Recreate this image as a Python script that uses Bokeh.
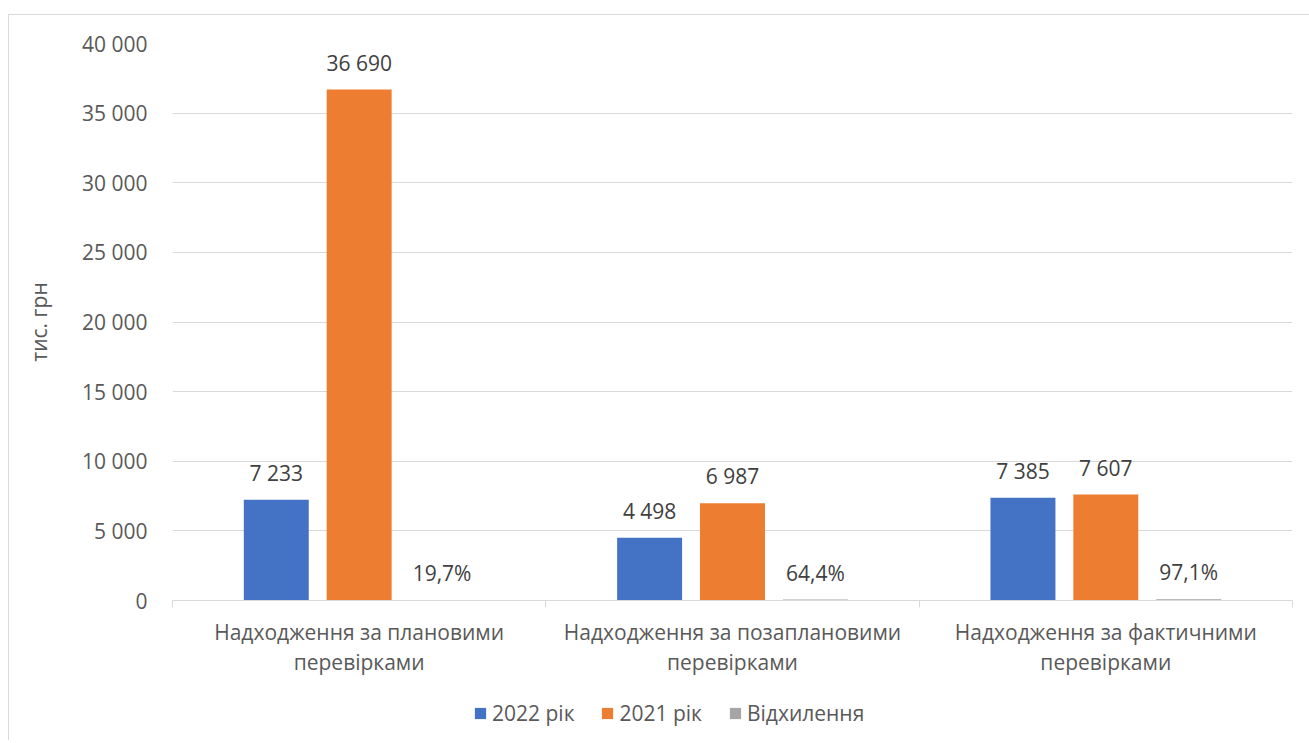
from bokeh.plotting import figure
from bokeh.layouts import column
from bokeh.models import (ColumnDataSource, Range1d, LinearAxis, FixedTicker,
                          Legend, LegendItem)
from bokeh.transform import dodge
from bokeh.core.properties import value
from bokeh.embed import file_html
from bokeh.resources import INLINE

categories = ["Надходження за плановими\nперевірками",
              "Надходження за позаплановими\nперевірками",
              "Надходження за фактичними\nперевірками"]
series_names = ["2022 рік", "2021 рік", "Відхилення"]
values_2022 = [7233, 4498, 7385]
values_2021 = [36690, 6987, 7607]
deviation_pct = [19.7, 64.4, 97.1]
y_ticks = [0, 5000, 10000, 15000, 20000, 25000, 30000, 35000, 40000]
y_tick_labels = ["0", "5 000", "10 000", "15 000", "20 000", "25 000", "30 000", "35 000", "40 000"]

FONT = "Open Sans"
TXT = "#595959"
LBL = "#404040"
colors = ["#4472C4", "#ED7D31", "#A5A5A5"]


def fmt_int(v):
    return f"{v:,}".replace(",", " ")


def fmt_pct(v):
    return f"{v:.1f}".replace(".", ",") + "%"


n = len(categories)
centers = [i + 0.5 for i in range(n)]
bounds = list(range(n + 1))

src = ColumnDataSource(dict(
    xc=centers,
    v2022=values_2022,
    v2021=values_2021,
    dev=deviation_pct,
    l2022=[fmt_int(v) for v in values_2022],
    l2021=[fmt_int(v) for v in values_2021],
    ldev=[fmt_pct(v) for v in deviation_pct],
))

p = figure(width=1300, height=675, output_backend="svg", toolbar_location=None,
           x_range=Range1d(0, n), y_range=Range1d(0, 40000), x_axis_location=None)
p.min_border_left = 163
p.min_border_right = 17
p.min_border_top = 28
p.min_border_bottom = 90
p.outline_line_color = None
p.background_fill_color = "white"
p.border_fill_color = "white"

offsets = [-0.222, 0.0, 0.222]
bw = 0.174
fields = ["v2022", "v2021", "dev"]
labels = ["l2022", "l2021", "ldev"]
for f, lab, off, c in zip(fields, labels, offsets, colors):
    p.vbar(x=dodge("xc", off), top=f, width=bw, source=src,
           fill_color=c, line_color=None)
    p.text(x=dodge("xc", off), y=f, text=lab, source=src,
           text_align="center", text_baseline="middle", y_offset=-27,
           text_font=value(FONT), text_font_size="21px", text_color=LBL)

# y axis
p.yaxis.ticker = FixedTicker(ticks=y_ticks)
p.yaxis.major_label_overrides = {t: s for t, s in zip(y_ticks, y_tick_labels)}
p.yaxis.axis_line_color = None
p.yaxis.major_tick_line_color = None
p.yaxis.minor_tick_line_color = None
p.yaxis.major_label_standoff = 19
p.yaxis.major_label_text_font = FONT
p.yaxis.major_label_text_font_size = "21px"
p.yaxis.major_label_text_color = TXT
p.yaxis.axis_label = "тис. грн"
p.yaxis.axis_label_text_font = FONT
p.yaxis.axis_label_text_font_size = "21px"
p.yaxis.axis_label_text_font_style = "normal"
p.yaxis.axis_label_text_color = TXT
p.yaxis.axis_label_standoff = 26

p.ygrid.grid_line_color = "#D9D9D9"
p.xgrid.grid_line_color = None

# category axis: labels at centers, separator marks at boundaries
cat_axis = LinearAxis(ticker=FixedTicker(ticks=centers, minor_ticks=bounds),
                      major_label_overrides={c: name for c, name in zip(centers, categories)})
cat_axis.axis_line_color = "#D9D9D9"
cat_axis.major_tick_line_color = None
cat_axis.major_tick_in = 0
cat_axis.major_tick_out = 0
cat_axis.minor_tick_line_color = "#D9D9D9"
cat_axis.minor_tick_in = 0
cat_axis.minor_tick_out = 7
cat_axis.major_label_text_font = FONT
cat_axis.major_label_text_font_size = "21px"
cat_axis.major_label_text_color = TXT
cat_axis.major_label_text_line_height = 1.1
cat_axis.major_label_standoff = 10
p.add_layout(cat_axis, "below")

# legend row (separate strip under the chart); its renderers use the same data
# but are hidden, so only the legend shows
leg = figure(width=1300, height=50, output_backend="svg", toolbar_location=None,
             x_range=Range1d(100, 101), y_range=Range1d(0, 1),
             x_axis_location=None, y_axis_location=None, min_border=0)
leg.outline_line_color = None
leg.grid.visible = False
leg_renderers = [leg.vbar(x=dodge("xc", off), top=f, width=bw, source=src,
                          fill_color=c, line_color=None, visible=False)
                 for f, off, c in zip(fields, offsets, colors)]
legend = Legend(items=[LegendItem(label=s, renderers=[r]) for s, r in zip(series_names, leg_renderers)],
                orientation="horizontal", location=(301, 13),
                glyph_width=14, glyph_height=14, label_standoff=5, spacing=26,
                padding=0, margin=0, border_line_color=None, background_fill_alpha=0,
                inactive_fill_alpha=0,
                label_text_font=FONT, label_text_font_size="21px", label_text_color=TXT)
leg.add_layout(legend, "center")

layout = column(p, leg, spacing=0)
layout.margin = (14, 0, 0, 8)
layout.styles = {"border-left": "1px solid #D9D9D9", "border-top": "1px solid #D9D9D9"}

open("out.html", "w").write(file_html(layout, INLINE))
